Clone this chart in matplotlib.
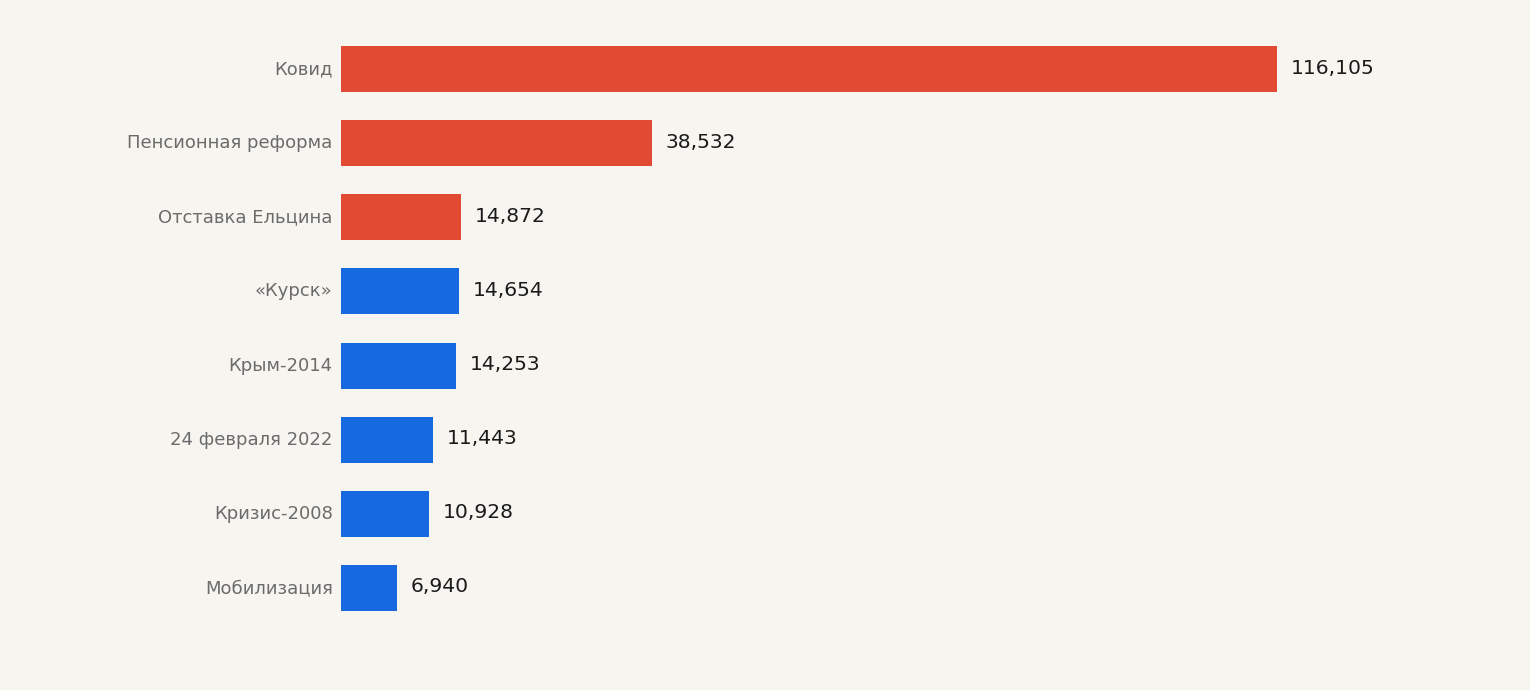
import matplotlib
matplotlib.use("Agg")
import matplotlib.pyplot as plt

categories = ["Ковид", "Пенсионная реформа", "Отставка Ельцина", "«Курск»",
              "Крым-2014", "24 февраля 2022", "Кризис-2008", "Мобилизация"]
values = [116105, 38532, 14872, 14654, 14253, 11443, 10928, 6940]
groups = ["red", "red", "red", "blue", "blue", "blue", "blue", "blue"]

palette = {"red": "#E34A33", "blue": "#1769E0"}
bg = "#F7F5F0"

fig = plt.figure(figsize=(15.3, 6.9), dpi=100, facecolor=bg)
ax = fig.add_axes([341/1530, 1-625/690, (1407.6-341)/1530, (625-32)/690])
ax.set_facecolor(bg)

y = list(range(len(categories)))
ax.barh(y, values, height=0.62, color=[palette[g] for g in groups])
ax.set_ylim(len(categories)-0.5, -0.5)
ax.set_xlim(0, 116105*1066.6/936)
ax.set_yticks(y)
ax.set_yticklabels(categories, fontsize=13, color="#6B6B6B", va="center")
ax.tick_params(axis="y", length=0, pad=6)
ax.set_xticks([])
for s in ax.spines.values():
    s.set_visible(False)

for yi, v in zip(y, values):
    ax.annotate(f"{v:,}", (v, yi), xytext=(14, 1), textcoords="offset pixels",
                va="center", ha="left", fontsize=14.6, color="#1A1A1A")

fig.savefig("out.png", dpi=100, facecolor=bg)
